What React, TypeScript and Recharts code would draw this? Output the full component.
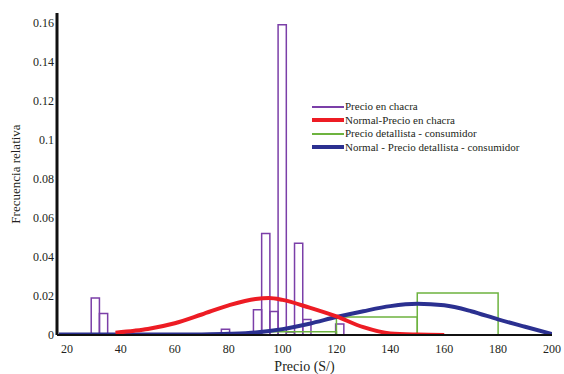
import React from "react"
import { ComposedChart, Line, XAxis, YAxis, ReferenceArea } from "recharts"

// histogram "Precio en chacra" (bin start, bin end, frecuencia relativa)
const chacraBinStart = [29.0, 32.05, 77.3, 89.2, 92.25, 95.3, 98.35, 101.4, 104.45, 107.5, 119.7]
const chacraBinEnd = [32.05, 35.1, 80.35, 92.25, 95.3, 98.35, 101.4, 104.45, 107.5, 110.55, 122.75]
const chacraFreq = [0.019, 0.011, 0.003, 0.013, 0.052, 0.012, 0.159, 0.0015, 0.047, 0.008, 0.0056]

// histogram "Precio detallista - consumidor"
const detallistaBinStart = [90, 120, 150]
const detallistaBinEnd = [120, 150, 180]
const detallistaFreq = [0.0017, 0.0092, 0.0215]

// normal curves
const redX = [38, 45, 50, 60, 70, 80, 90, 95, 100, 110, 120, 130, 140, 150, 160]
const redY = [0.0012, 0.0022, 0.0031, 0.006, 0.0105, 0.0152, 0.0185, 0.019, 0.018, 0.014, 0.0095, 0.004, 0.0008, 0.0002, 0]

const blueX = [17, 40, 60, 70, 80, 90, 100, 110, 120, 130, 140, 150, 160, 170, 180, 190, 200]
const blueY = [0.0003, 0.0002, 0.0002, 0.0003, 0.0006, 0.0013, 0.003, 0.0058, 0.0092, 0.0122, 0.0148, 0.016, 0.0152, 0.0122, 0.008, 0.0042, 0.0005]

const xTicks = [20, 40, 60, 80, 100, 120, 140, 160, 180, 200]
const yTicks = [0, 0.02, 0.04, 0.06, 0.08, 0.1, 0.12, 0.14, 0.16]

const legendItems = [
  { label: "Precio en chacra", color: "#7B3FA8", width: 1.5 },
  { label: "Normal-Precio en chacra", color: "#ED1C24", width: 4 },
  { label: "Precio detallista - consumidor", color: "#6DB33F", width: 2 },
  { label: "Normal - Precio detallista - consumidor", color: "#2B3090", width: 4 },
]

const redData = redX.map((x, i) => ({ x, y: redY[i] }))
const blueData = blueX.map((x, i) => ({ x, y: blueY[i] }))

const font = "'Liberation Serif', 'Times New Roman', serif"
const textColor = "#231f20"

export default function App() {
  return (
    <div style={{ position: "fixed", left: 0, top: 0, width: 564, height: 374, background: "#fff", fontFamily: font }}>
      <ComposedChart width={564} height={374} margin={{ top: 13, right: 12, bottom: 0, left: 0 }}>
        <XAxis
          type="number"
          dataKey="x"
          domain={[16.3, 200]}
          ticks={xTicks}
          allowDataOverflow
          height={39}
          tickSize={0}
          tickMargin={9}
          axisLine={{ stroke: "#111", strokeWidth: 2 }}
          tick={{ fill: textColor, fontSize: 12, fontFamily: font }}
          label={{ value: "Precio (S/)", position: "insideBottom", offset: 3, fill: textColor, fontSize: 14, fontFamily: font }}
        />
        <YAxis
          type="number"
          domain={[0, 0.165]}
          ticks={yTicks}
          allowDataOverflow
          width={57}
          tickSize={0}
          tickMargin={3}
          axisLine={{ stroke: "#111", strokeWidth: 3 }}
          tick={{ fill: textColor, fontSize: 12, fontFamily: font }}
          tickFormatter={(v) => String(v)}
          label={{
            value: "Frecuencia relativa",
            angle: -90,
            position: "insideLeft",
            offset: 15,
            fill: textColor,
            fontSize: 13,
            fontFamily: font,
            style: { textAnchor: "middle" },
          }}
        />
        {chacraFreq.map((f, i) => (
          <ReferenceArea
            key={"c" + i}
            x1={chacraBinStart[i]}
            x2={chacraBinEnd[i]}
            y1={0}
            y2={f}
            fill="none"
            stroke="#7B3FA8"
            strokeWidth={1.5}
            ifOverflow="visible"
          />
        ))}
        {detallistaFreq.map((f, i) => (
          <ReferenceArea
            key={"d" + i}
            x1={detallistaBinStart[i]}
            x2={detallistaBinEnd[i]}
            y1={0}
            y2={f}
            fill="none"
            stroke="#6DB33F"
            strokeWidth={1.5}
            ifOverflow="visible"
          />
        ))}
        <Line data={blueData} dataKey="y" type="monotone" stroke="#2B3090" strokeWidth={4} dot={false} isAnimationActive={false} />
        <Line data={redData} dataKey="y" type="monotone" stroke="#ED1C24" strokeWidth={4} dot={false} isAnimationActive={false} />
      </ComposedChart>
      <div style={{ position: "absolute", left: 312, top: 100, fontSize: 11, color: textColor, lineHeight: "13.5px" }}>
        {legendItems.map((it) => (
          <div key={it.label} style={{ display: "flex", alignItems: "center", height: 13.5 }}>
            <div style={{ width: 32, height: it.width, background: it.color, marginRight: 1 }} />
            <span>{it.label}</span>
          </div>
        ))}
      </div>
    </div>
  )
}
